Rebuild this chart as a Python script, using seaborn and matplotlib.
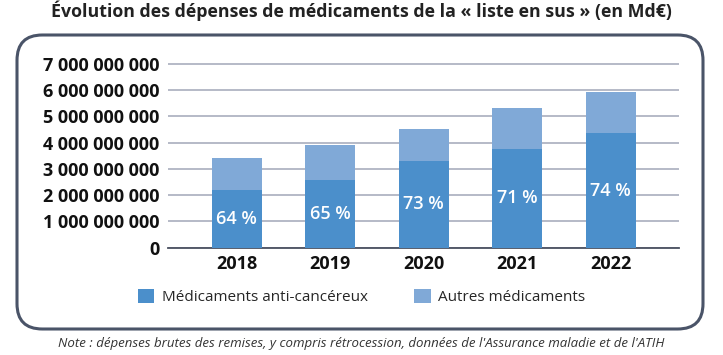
import matplotlib
matplotlib.use("Agg")
import matplotlib.pyplot as plt
from matplotlib.patches import FancyBboxPatch, Patch
import seaborn as sns
import pandas as pd

years = ["2018", "2019", "2020", "2021", "2022"]
anticancer = [2.18e9, 2.56e9, 3.30e9, 3.76e9, 4.35e9]
total = [3.41e9, 3.91e9, 4.53e9, 5.30e9, 5.91e9]
shares = ["64 %", "65 %", "73 %", "71 %", "74 %"]
yticks = [0, 1e9, 2e9, 3e9, 4e9, 5e9, 6e9, 7e9]
ytick_labels = ["0", "1 000 000 000", "2 000 000 000", "3 000 000 000",
                "4 000 000 000", "5 000 000 000", "6 000 000 000", "7 000 000 000"]
series_names = ["Médicaments anti-cancéreux", "Autres médicaments"]
title = "Évolution des dépenses de médicaments de la « liste en sus » (en Md€)"
note = "Note : dépenses brutes des remises, y compris rétrocession, données de l'Assurance maladie et de l'ATIH"

c_cancer = "#4b8fcb"
c_other = "#80a9d7"

sns.set_theme(style="white")
plt.rcParams["font.family"] = ["Open Sans", "DejaVu Sans"]

df = pd.DataFrame({"year": years, "anticancer": anticancer, "total": total})

fig = plt.figure(figsize=(7.23, 3.55), dpi=100)
ax = fig.add_axes([0.232, 0.302, 0.939 - 0.232, 0.526])

# rounded frame
box = FancyBboxPatch((17 / 723, 1 - 329 / 355), (703 - 17) / 723, (329 - 35) / 355,
                     boxstyle="round,pad=0,rounding_size=0.035",
                     transform=fig.transFigure, fill=False,
                     edgecolor="#4a5468", linewidth=2.2, mutation_aspect=723 / 355)
fig.patches.append(box)

sns.barplot(data=df, x="year", y="total", color=c_other, width=0.535,
            saturation=1, linewidth=0, edgecolor="none", ax=ax, zorder=3)
sns.barplot(data=df, x="year", y="anticancer", color=c_cancer, width=0.535,
            saturation=1, linewidth=0, edgecolor="none", ax=ax, zorder=4)

for i, (v, s) in enumerate(zip(anticancer, shares)):
    ax.text(i, v / 2, s, ha="center", va="center", color="white",
            fontsize=13, fontweight="semibold", zorder=5)

ax.set_ylim(0, 7.1e9)
ax.set_xlim(-0.74, 4.73)
ax.set_yticks(yticks)
ax.set_yticklabels(ytick_labels)
ax.set_xlabel("")
ax.set_ylabel("")
for sp in ["top", "right", "left"]:
    ax.spines[sp].set_visible(False)
ax.spines["bottom"].set_color("#4a5060")
ax.spines["bottom"].set_linewidth(1.3)
ax.yaxis.grid(True, color="#a9aebd", linewidth=1.2, zorder=0)
ax.set_axisbelow(True)
ax.tick_params(axis="both", length=0)
ax.tick_params(axis="y", pad=6, labelsize=13)
ax.tick_params(axis="x", pad=5, labelsize=13)
for lab in ax.get_yticklabels() + ax.get_xticklabels():
    lab.set_fontweight("bold")
    lab.set_color("#111111")

handles = [Patch(facecolor=c_cancer, edgecolor="none"),
           Patch(facecolor=c_other, edgecolor="none")]
fig.legend(handles, series_names, loc="center", bbox_to_anchor=(0.5, 1 - 297 / 355),
           ncol=2, frameon=False, fontsize=11, handlelength=1.1, handleheight=1.1,
           handletextpad=0.5, columnspacing=3.0)

fig.text(0.5, 1 - 11 / 355, title, ha="center", va="center", fontsize=12.8,
         fontweight="bold", color="#222222")
fig.text(0.5, 1 - 344 / 355, note, ha="center", va="center", fontsize=9.5,
         style="italic", color="#333333")

fig.savefig("out.png", dpi=100)
